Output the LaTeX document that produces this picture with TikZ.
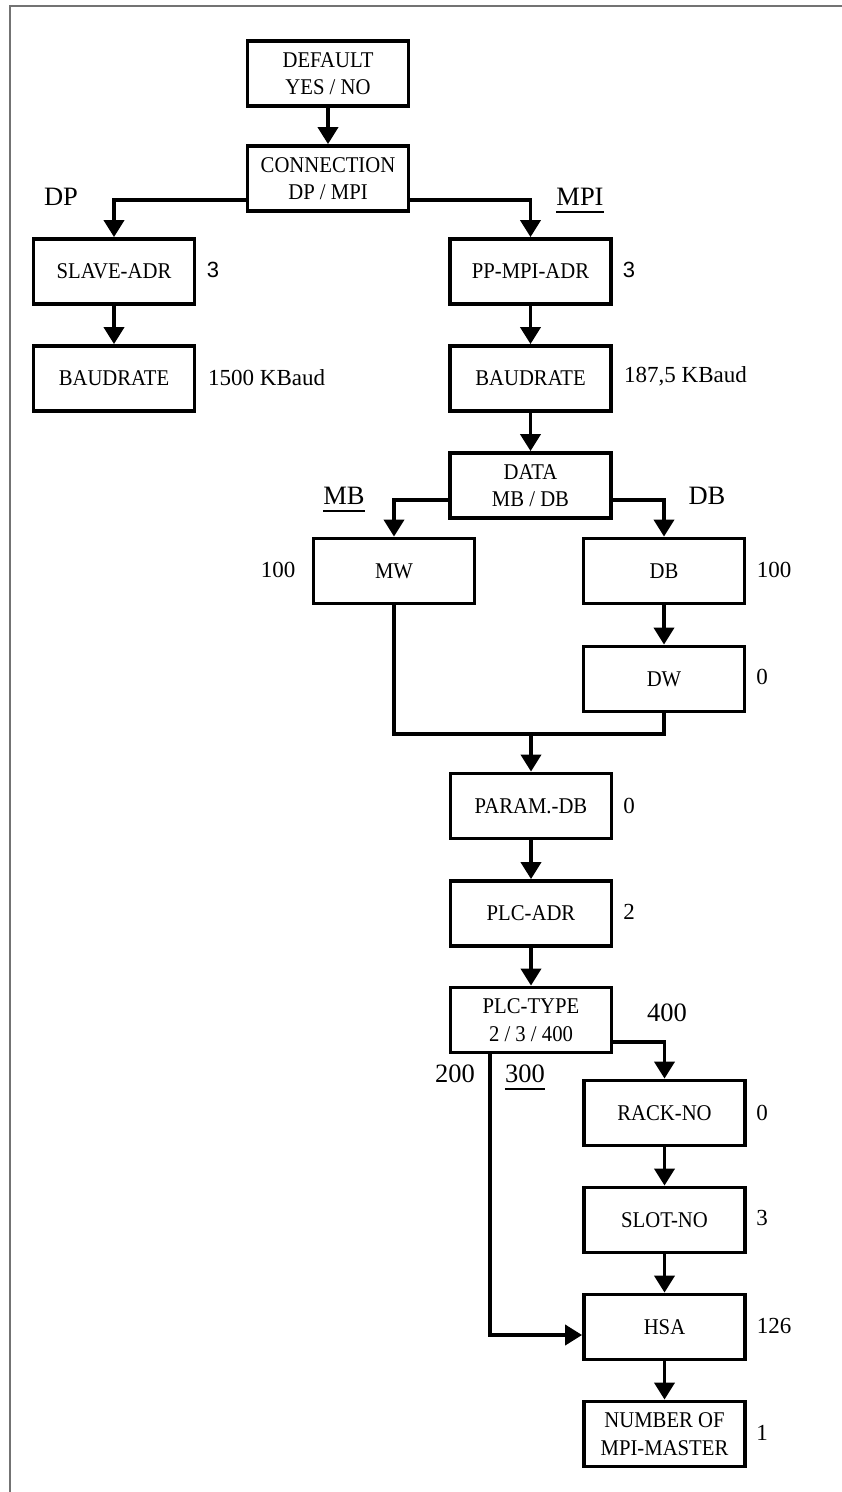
\documentclass[tikz,border=0pt]{standalone}
\usepackage{fontspec}
\setmainfont{Liberation Serif}
\newfontfamily\sansf{Liberation Sans}
\newfontfamily\boxf{Liberation Serif}[FakeStretch=0.92]
\usetikzlibrary{arrows.meta}

\tikzset{
  box/.style={draw, line width=3.8pt, minimum width=161pt, minimum height=65pt,
    inner sep=0pt, align=center, font=\boxf\fontsize{22.5}{27.5}\selectfont},
  link/.style={line width=3.8pt, -{Triangle[width=20pt,length=17pt]}},
  plain/.style={line width=3.8pt},
  val/.style={inner sep=0pt, font=\fontsize{23}{27}\selectfont},
  branch/.style={inner sep=0pt, font=\fontsize{26.5}{30}\selectfont},
  uline/.style={line width=2pt},
  frame/.style={draw=black!55, line width=1.5pt}
}

\begin{document}
\begin{tikzpicture}[x=1pt, y=-1pt]
\useasboundingbox (0,0) rectangle (842,1492);
\fill[white] (0,0) rectangle (842,1492);

% page frame (top and left edges)
\draw[frame] (10,1492) -- (10,6) -- (842,6);

% boxes
\node[box] (def)   at (328,73.5)   {DEFAULT\\YES / NO};
\node[box] (conn)  at (328,178.5)  {CONNECTION\\DP / MPI};
\node[box] (slave) at (114,271.5)  {SLAVE-ADR};
\node[box] (ppmpi) at (530.5,271.5){PP-MPI-ADR};
\node[box] (baudl) at (114,378.5)  {BAUDRATE};
\node[box] (baudr) at (530.5,378.5){BAUDRATE};
\node[box] (data)  at (530.5,485.5){DATA\\MB / DB};
\node[box] (mw)    at (394,571)    {MW};
\node[box] (db)    at (664,571)    {DB};
\node[box] (dw)    at (664,679)    {DW};
\node[box] (param) at (531,806)    {PARAM.-DB};
\node[box] (plcadr) at (531,913.5) {PLC-ADR};
\node[box] (plctype) at (531,1020) {PLC-TYPE\\2 / 3 / 400};
\node[box] (rack)  at (664.5,1113) {RACK-NO};
\node[box] (slot)  at (664.5,1220) {SLOT-NO};
\node[box] (hsa)   at (664.5,1327) {HSA};
\node[box] (num)   at (664.5,1434) {NUMBER OF\\MPI-MASTER};

% connectors
\draw[link] (def) -- (conn);
\draw[link] ([yshift=-21.5pt]conn.west) -| (slave.north);
\draw[link] ([yshift=-21.5pt]conn.east) -| (ppmpi.north);
\draw[link] (slave) -- (baudl);
\draw[link] (ppmpi) -- (baudr);
\draw[link] (baudr) -- (data);
\draw[link] ([yshift=-14.5pt]data.west) -| (mw.north);
\draw[link] ([yshift=-14.5pt]data.east) -| (db.north);
\draw[link] (db) -- (dw);
\coordinate (join) at (531,734);
\draw[plain] (mw.south) -- (mw.south |- join) -- (dw.south |- join) -- (dw.south);
\draw[link] (join) -- (param.north);
\draw[link] (param) -- (plcadr);
\draw[link] (plcadr) -- (plctype);
\draw[link] ([yshift=-22pt]plctype.east) -| (rack.north);
\draw[link] ([xshift=-41pt]plctype.south) |- ([yshift=-8pt]hsa.west);
\draw[link] (rack) -- (slot);
\draw[link] (slot) -- (hsa);
\draw[link] (hsa) -- (num);

% branch labels
\node[branch] (ldp)  at (61,197)  {DP};
\node[branch] (lmpi) at (580,197) {MPI};
\draw[uline] ([yshift=-6pt]lmpi.base west) -- ([yshift=-6pt]lmpi.base east);
\node[branch] (lmb)  at (344,496) {MB};
\draw[uline] ([yshift=-6pt]lmb.base west) -- ([yshift=-6pt]lmb.base east);
\node[branch] (ldb)  at (707,496) {DB};
\node[branch] (l400) at (667,1013) {400};
\node[branch] (l200) at (455,1074) {200};
\node[branch] (l300) at (525,1074) {300};
\draw[uline] ([yshift=-6pt]l300.base west) -- ([yshift=-6pt]l300.base east);

% parameter values
\node[val, font=\sansf\fontsize{22}{26}\selectfont] (vslave) at (213,270) {3};
\node[val, font=\sansf\fontsize{22}{26}\selectfont] (vppmpi) at (629,270) {3};
\node[val, anchor=west] (vbaudl) at (208,378) {1500 KBaud};
\node[val, anchor=west] (vbaudr) at (624,376) {187,5 KBaud};
\node[val] (vmw)    at (278,570)  {100};
\node[val] (vdb)    at (774,570)  {100};
\node[val] (vdw)    at (762,677)  {0};
\node[val] (vparam) at (629,806)  {0};
\node[val] (vplc)   at (629,912)  {2};
\node[val] (vrack)  at (762,1113) {0};
\node[val] (vslot)  at (762,1218) {3};
\node[val] (vhsa)   at (774,1326) {126};
\node[val] (vnum)   at (762,1433) {1};
\end{tikzpicture}
\end{document}
